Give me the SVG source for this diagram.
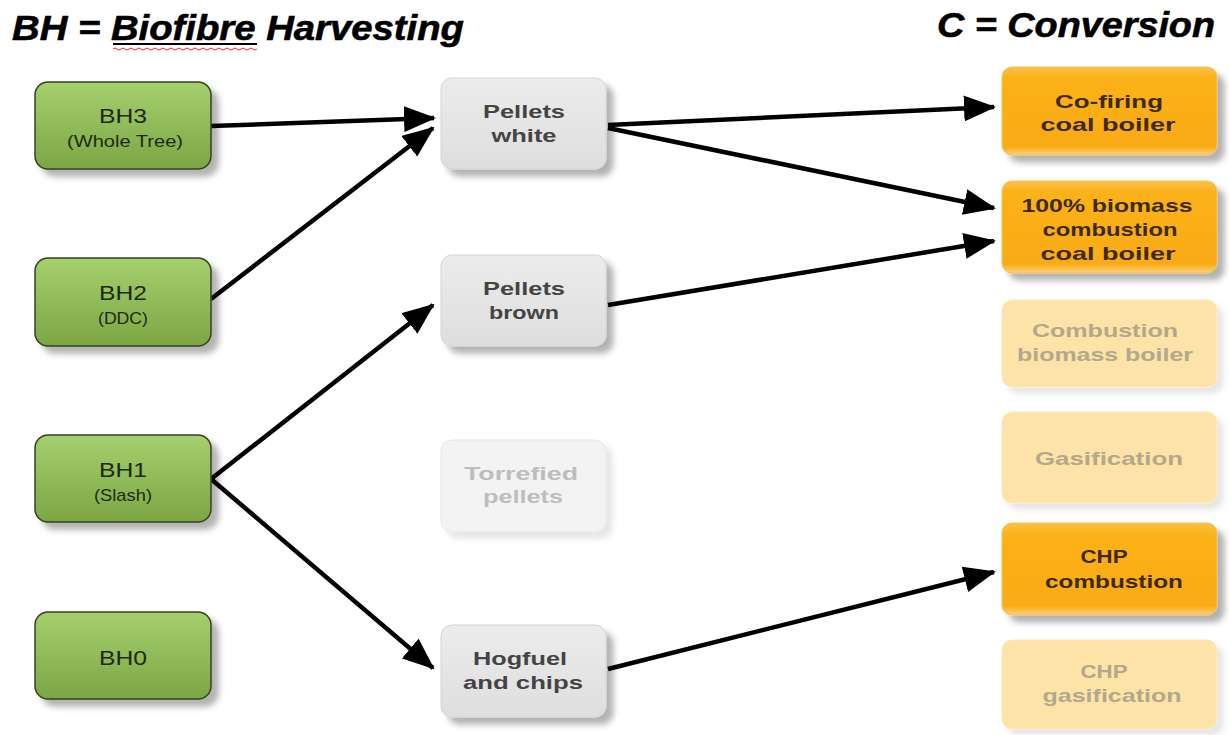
<svg xmlns="http://www.w3.org/2000/svg" width="1229" height="735" viewBox="0 0 1229 735">
  <style>
    .title { font-family: "Liberation Sans", Arial, sans-serif; font-weight: bold; font-style: italic; font-size: 35px; fill: #000; stroke: #000; stroke-width: 0.6; }
    .gtxt { font-family: "Liberation Sans", Arial, sans-serif; fill: #1e2a10; text-anchor: middle; }
    .big { font-size: 21px; }
    .small { font-size: 17px; }
    .mtxt { font-family: "Liberation Sans", Arial, sans-serif; font-weight: bold; font-size: 19px; fill: #444; text-anchor: middle; }
    .mtxt.faint { fill: #bdbdbd; }
    .otxt { font-family: "Liberation Sans", Arial, sans-serif; font-weight: bold; font-size: 19px; fill: #3d2a00; text-anchor: middle; }
    .otxt.faint { fill: #b3a78c; }
    .green { fill: url(#gGreen); stroke: #34421f; stroke-width: 1.5; filter: url(#shadow); }
    .gray { fill: url(#gGray); stroke: #d4d4d4; stroke-width: 1; filter: url(#shadow); }
    .grayFaint { fill: #f3f3f3; stroke: #e6e6e6; stroke-width: 1; filter: url(#shadowLight); }
    .orange { fill: url(#gOrange); stroke: #f0c060; stroke-width: 1; filter: url(#shadow); }
    .orangeFaint { fill: #fde3a7; stroke: #fbe8bf; stroke-width: 1; filter: url(#shadowLight); }
    .conn { stroke: #000; stroke-width: 4.5; fill: none; marker-end: url(#head); }
  </style>
  <defs>
    <linearGradient id="gGreen" x1="0" y1="0" x2="0" y2="1">
      <stop offset="0" stop-color="#a6d06e"/>
      <stop offset="1" stop-color="#7ca544"/>
    </linearGradient>
    <linearGradient id="gGray" x1="0" y1="0" x2="0" y2="1">
      <stop offset="0" stop-color="#ececec"/>
      <stop offset="1" stop-color="#dedede"/>
    </linearGradient>
    <linearGradient id="gOrange" x1="0" y1="0" x2="0" y2="1">
      <stop offset="0" stop-color="#fcc247"/>
      <stop offset="0.12" stop-color="#fbb21a"/>
      <stop offset="0.9" stop-color="#f9ab12"/>
      <stop offset="1" stop-color="#fbd07a"/>
    </linearGradient>
    <filter id="shadow" x="-10%" y="-10%" width="130%" height="130%">
      <feDropShadow dx="7" dy="7" stdDeviation="3" flood-color="#000" flood-opacity="0.3"/>
    </filter>
    <filter id="shadowLight" x="-10%" y="-10%" width="130%" height="130%">
      <feDropShadow dx="6" dy="6" stdDeviation="3" flood-color="#000" flood-opacity="0.1"/>
    </filter>
    <marker id="head" markerUnits="userSpaceOnUse" markerWidth="32" markerHeight="26" refX="30" refY="13" orient="auto">
      <path d="M0,0 L32,13 L0,26 Z" fill="#000"/>
    </marker>
  </defs>

  <!-- headings -->
  <text class="title" x="12" y="40" textLength="452" lengthAdjust="spacingAndGlyphs">BH = Biofibre Harvesting</text>
  <line x1="113" y1="44" x2="257" y2="44" stroke="#000" stroke-width="2"/>
  <path d="M113,49 q2,-2 4,0 t4,0 t4,0 t4,0 t4,0 t4,0 t4,0 t4,0 t4,0 t4,0 t4,0 t4,0 t4,0 t4,0 t4,0 t4,0 t4,0 t4,0 t4,0 t4,0 t4,0 t4,0 t4,0 t4,0 t4,0 t4,0 t4,0 t4,0 t4,0 t4,0 t4,0 t4,0 t4,0 t4,0 t4,0 t4,0" fill="none" stroke="#e03030" stroke-width="1"/>
  <text class="title" x="937" y="37" textLength="278" lengthAdjust="spacingAndGlyphs">C = Conversion</text>

  <!-- connectors -->
  <g id="connectors">
    <line class="conn" x1="211" y1="126" x2="434" y2="118"/>
    <line class="conn" x1="211" y1="299" x2="433" y2="128"/>
    <line class="conn" x1="211" y1="479" x2="433" y2="305"/>
    <line class="conn" x1="211" y1="479" x2="433" y2="668"/>
    <line class="conn" x1="608" y1="125" x2="994" y2="107"/>
    <line class="conn" x1="608" y1="128" x2="994" y2="208"/>
    <line class="conn" x1="608" y1="305" x2="994" y2="241"/>
    <line class="conn" x1="608" y1="669" x2="994" y2="572"/>
  </g>

  <!-- harvesting nodes -->
  <g id="bh3">
    <rect class="green" x="35" y="82" width="176" height="87" rx="13"/>
    <text class="gtxt big" x="123" y="123" textLength="48" lengthAdjust="spacingAndGlyphs">BH3</text>
    <text class="gtxt small" x="125" y="147" textLength="116" lengthAdjust="spacingAndGlyphs">(Whole Tree)</text>
  </g>
  <g id="bh2">
    <rect class="green" x="35" y="258" width="176" height="88" rx="13"/>
    <text class="gtxt big" x="123" y="300" textLength="48" lengthAdjust="spacingAndGlyphs">BH2</text>
    <text class="gtxt small" x="123" y="324" textLength="50" lengthAdjust="spacingAndGlyphs">(DDC)</text>
  </g>
  <g id="bh1">
    <rect class="green" x="35" y="435" width="176" height="87" rx="13"/>
    <text class="gtxt big" x="123" y="477" textLength="48" lengthAdjust="spacingAndGlyphs">BH1</text>
    <text class="gtxt small" x="123" y="501" textLength="58" lengthAdjust="spacingAndGlyphs">(Slash)</text>
  </g>
  <g id="bh0">
    <rect class="green" x="35" y="612" width="176" height="87" rx="13"/>
    <text class="gtxt big" x="123" y="665" textLength="48" lengthAdjust="spacingAndGlyphs">BH0</text>
  </g>

  <!-- product nodes -->
  <g id="pellets-white">
    <rect class="gray" x="441" y="78" width="165" height="91" rx="11"/>
    <text class="mtxt" x="524" y="118" textLength="82" lengthAdjust="spacingAndGlyphs">Pellets</text>
    <text class="mtxt" x="524" y="142" textLength="65" lengthAdjust="spacingAndGlyphs">white</text>
  </g>
  <g id="pellets-brown">
    <rect class="gray" x="441" y="255" width="165" height="91" rx="11"/>
    <text class="mtxt" x="524" y="295" textLength="82" lengthAdjust="spacingAndGlyphs">Pellets</text>
    <text class="mtxt" x="524" y="319" textLength="70" lengthAdjust="spacingAndGlyphs">brown</text>
  </g>
  <g id="torrefied-pellets">
    <rect class="grayFaint" x="441" y="440" width="165" height="92" rx="11"/>
    <text class="mtxt faint" x="521" y="480" textLength="114" lengthAdjust="spacingAndGlyphs">Torrefied</text>
    <text class="mtxt faint" x="523" y="503" textLength="80" lengthAdjust="spacingAndGlyphs">pellets</text>
  </g>
  <g id="hogfuel-chips">
    <rect class="gray" x="441" y="625" width="165" height="92" rx="11"/>
    <text class="mtxt" x="520" y="665" textLength="94" lengthAdjust="spacingAndGlyphs">Hogfuel</text>
    <text class="mtxt" x="523" y="689" textLength="120" lengthAdjust="spacingAndGlyphs">and chips</text>
  </g>

  <!-- conversion nodes -->
  <g id="cofiring">
    <rect class="orange" x="1002" y="67" width="215" height="88" rx="10"/>
    <text class="otxt" x="1109" y="108" textLength="108" lengthAdjust="spacingAndGlyphs">Co-firing</text>
    <text class="otxt" x="1108" y="131" textLength="135" lengthAdjust="spacingAndGlyphs">coal boiler</text>
  </g>
  <g id="biomass100">
    <rect class="orange" x="1002" y="181" width="215" height="92" rx="10"/>
    <text class="otxt" x="1107" y="212" textLength="171" lengthAdjust="spacingAndGlyphs">100% biomass</text>
    <text class="otxt" x="1110" y="236" textLength="135" lengthAdjust="spacingAndGlyphs">combustion</text>
    <text class="otxt" x="1108" y="260" textLength="135" lengthAdjust="spacingAndGlyphs">coal boiler</text>
  </g>
  <g id="combustion-biomass">
    <rect class="orangeFaint" x="1002" y="300" width="215" height="87" rx="10"/>
    <text class="otxt faint" x="1105" y="337" textLength="146" lengthAdjust="spacingAndGlyphs">Combustion</text>
    <text class="otxt faint" x="1105" y="361" textLength="176" lengthAdjust="spacingAndGlyphs">biomass boiler</text>
  </g>
  <g id="gasification">
    <rect class="orangeFaint" x="1002" y="412" width="215" height="91" rx="10"/>
    <text class="otxt faint" x="1109" y="465" textLength="148" lengthAdjust="spacingAndGlyphs">Gasification</text>
  </g>
  <g id="chp-combustion">
    <rect class="orange" x="1002" y="523" width="215" height="92" rx="10"/>
    <text class="otxt" x="1104" y="563" textLength="47" lengthAdjust="spacingAndGlyphs">CHP</text>
    <text class="otxt" x="1114" y="588" textLength="138" lengthAdjust="spacingAndGlyphs">combustion</text>
  </g>
  <g id="chp-gasification">
    <rect class="orangeFaint" x="1002" y="640" width="215" height="89" rx="10"/>
    <text class="otxt faint" x="1104" y="678" textLength="47" lengthAdjust="spacingAndGlyphs">CHP</text>
    <text class="otxt faint" x="1112" y="702" textLength="139" lengthAdjust="spacingAndGlyphs">gasification</text>
  </g>
</svg>
